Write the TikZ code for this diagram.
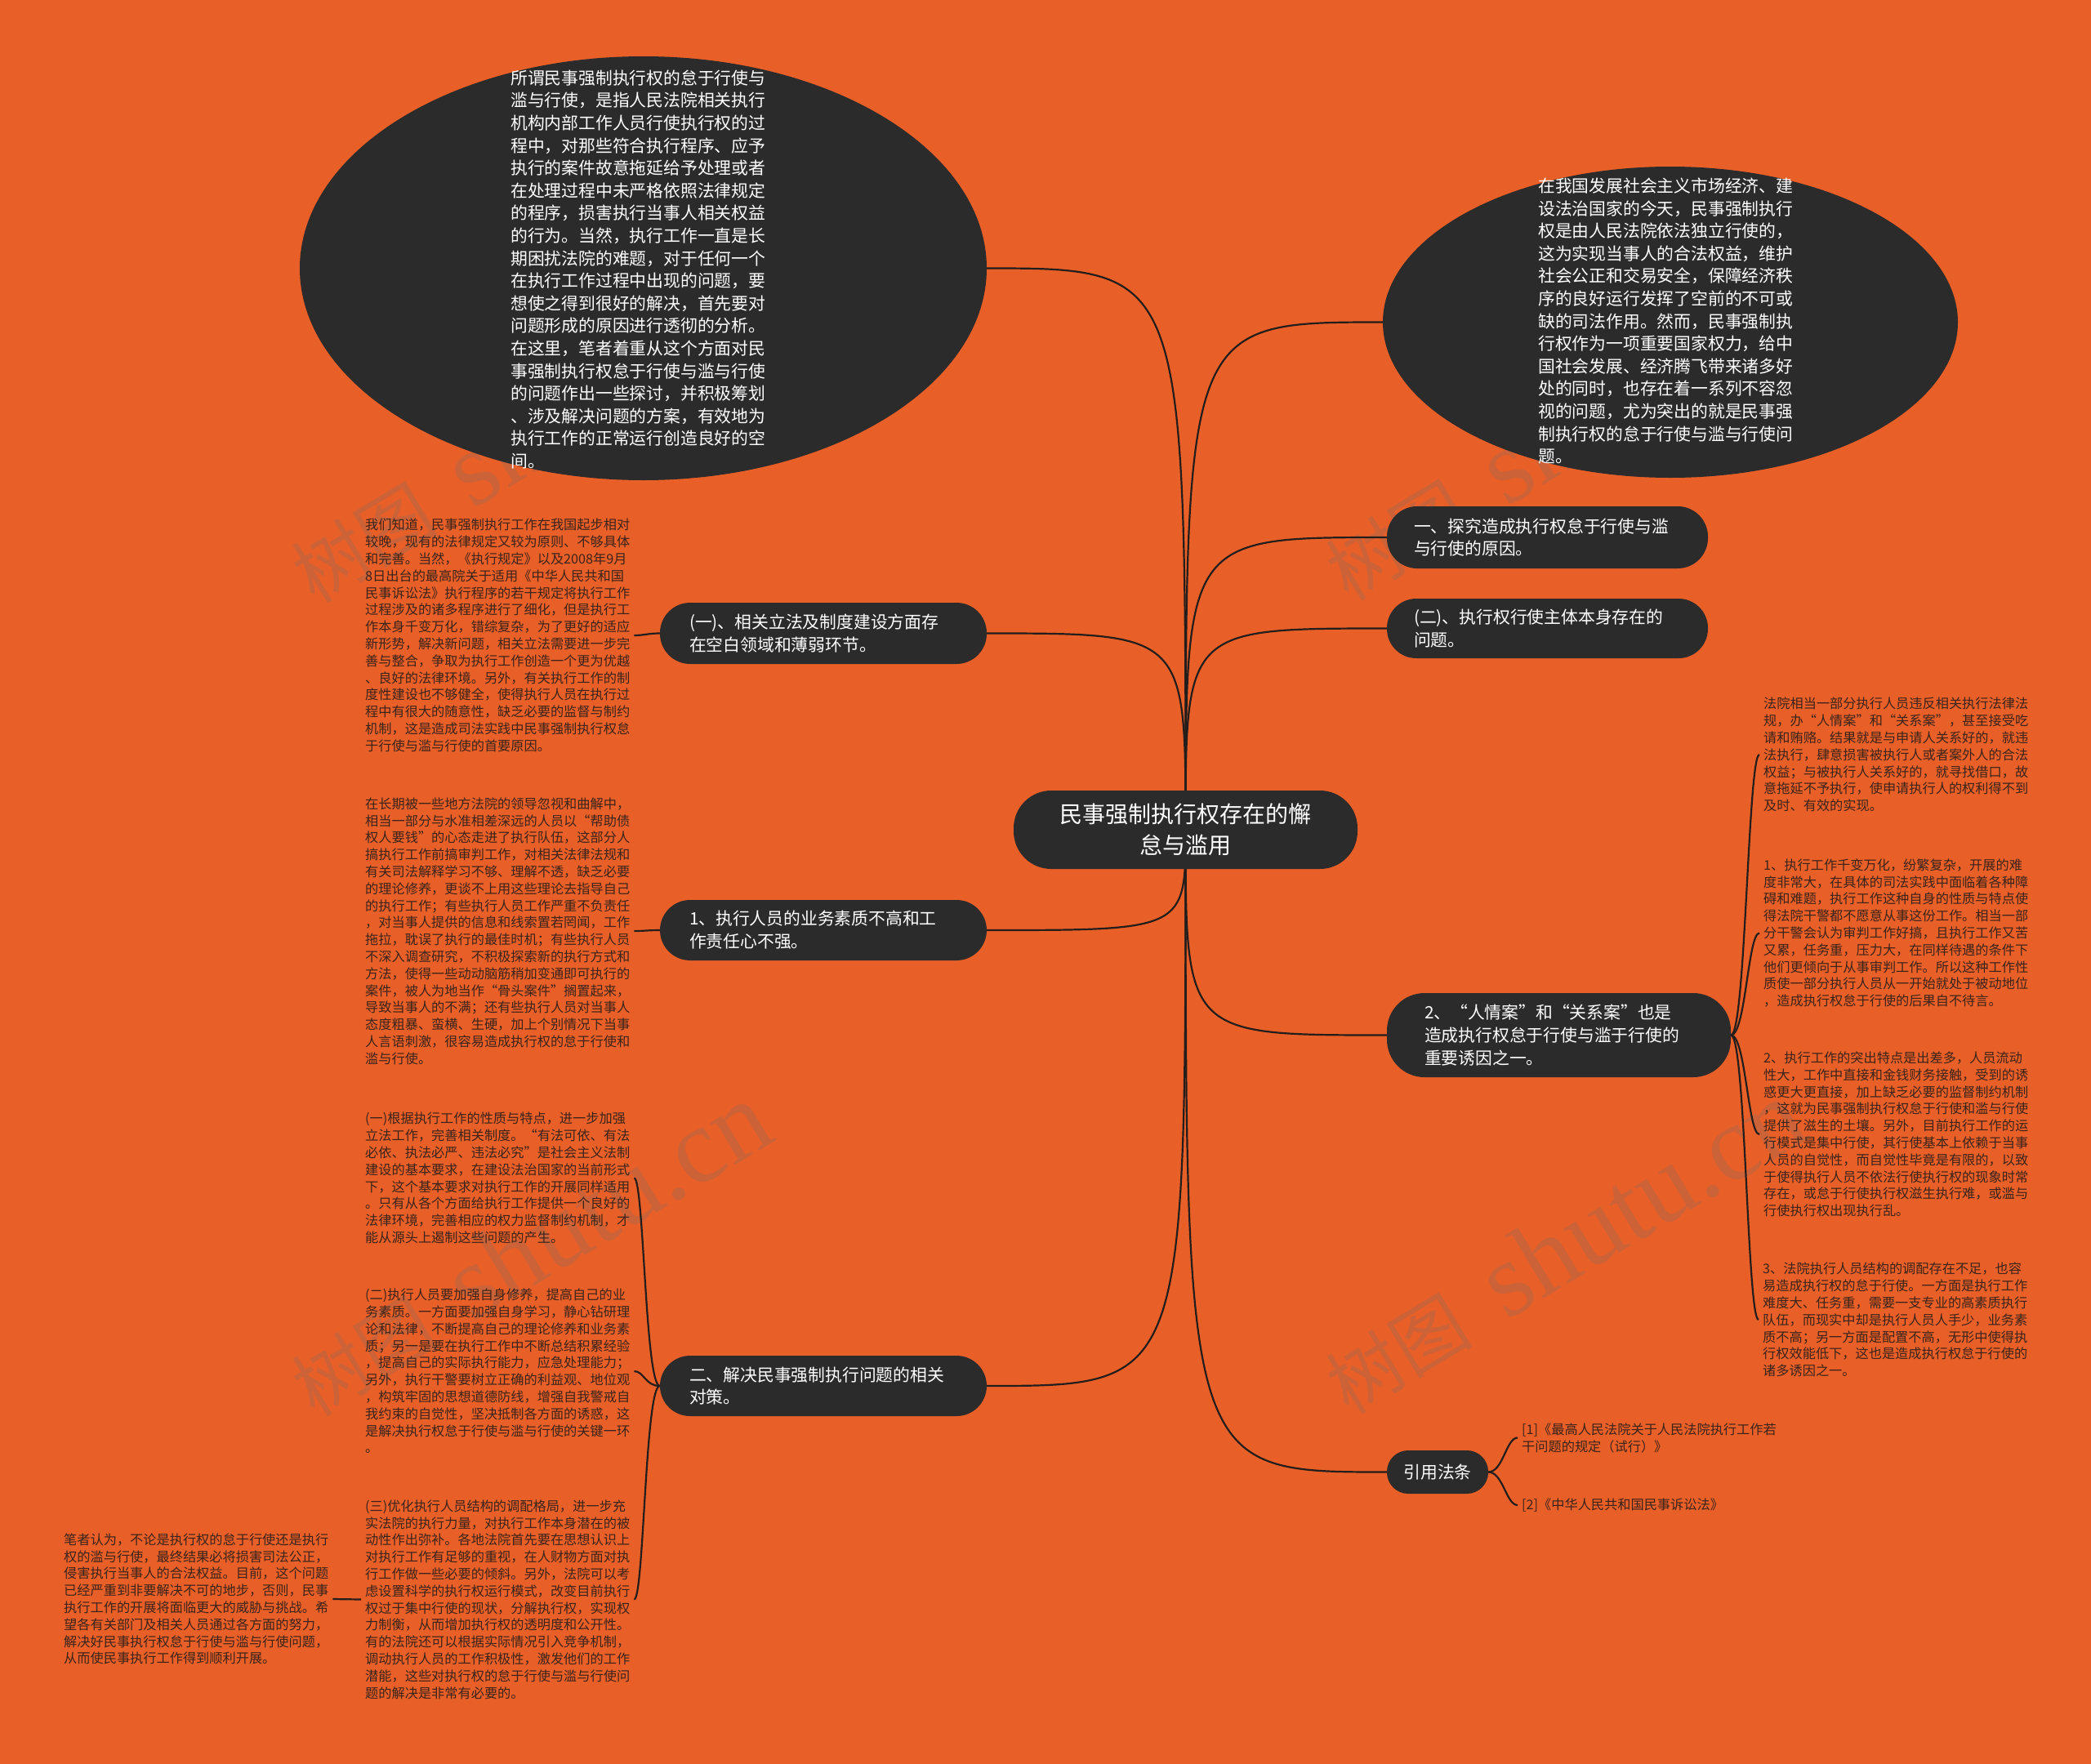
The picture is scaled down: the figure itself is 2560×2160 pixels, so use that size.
\documentclass[tikz,border=0pt]{standalone}
\usepackage{fontspec}
\setmainfont{Noto Sans CJK SC}
\newfontfamily\wmlatin{Liberation Serif}
\usetikzlibrary{shapes.geometric}
\definecolor{bgorange}{RGB}{233,95,40}
\definecolor{darkfill}{RGB}{43,43,43}
\definecolor{edgecol}{RGB}{35,30,28}
\definecolor{blocktext}{RGB}{58,36,26}
\definecolor{wmgray}{RGB}{110,110,110}
\pgfdeclarelayer{bg}
\pgfdeclarelayer{marks}
\pgfdeclarelayer{edges}
\pgfsetlayers{bg,marks,edges,main}
\tikzset{
  rootnode/.style={rectangle, rounded corners=46pt, fill=darkfill, text=white, minimum width=421pt, minimum height=96pt, align=center, font=\fontsize{28}{37.5}\selectfont, inner sep=0pt},
  pill/.style={rectangle, fill=darkfill, text=white, align=left, font=\fontsize{20.8}{27.8}\selectfont, inner ysep=0pt},
  blob/.style={ellipse, fill=darkfill, inner sep=0pt},
  blobtext/.style={anchor=west, text=white, align=left, inner xsep=0pt, inner ysep=0pt, font=\fontsize{20.8}{27.6}\selectfont},
  para/.style={anchor=west, text=blocktext, align=left, inner xsep=5pt, inner ysep=0pt, font=\fontsize{16.2}{20.8}\selectfont},
  link/.style={draw=edgecol, line width=2.2pt},
  wm/.style={text=wmgray, opacity=0.24, rotate=31, inner sep=0pt},
}
\newcommand{\wmark}{\fontsize{90}{90}\selectfont 树图\hspace{45pt}{\wmlatin\fontsize{130}{130}\selectfont shutu.cn}}
\begin{document}
\begin{tikzpicture}[x=1pt,y=-1pt]
\begin{pgfonlayer}{bg}
\fill[bgorange] (0,0) rectangle (2560,2160);
\end{pgfonlayer}
\useasboundingbox (0,0) rectangle (2560,2160);

% root
\node[rootnode] (root) at (1451.5,1016) {民事强制执行权存在的懈\\怠与滥用};

% ellipses
\node[blob, minimum width=841pt, minimum height=519pt] (e1) at (787.5,328.5) {};
\node[blobtext] (e1t) at (625,330) {所谓民事强制执行权的怠于行使与\\
滥与行使，是指人民法院相关执行\\
机构内部工作人员行使执行权的过\\
程中，对那些符合执行程序、应予\\
执行的案件故意拖延给予处理或者\\
在处理过程中未严格依照法律规定\\
的程序，损害执行当事人相关权益\\
的行为。当然，执行工作一直是长\\
期困扰法院的难题，对于任何一个\\
在执行工作过程中出现的问题，要\\
想使之得到很好的解决，首先要对\\
问题形成的原因进行透彻的分析。\\
在这里，笔者着重从这个方面对民\\
事强制执行权怠于行使与滥与行使\\
的问题作出一些探讨，并积极筹划\\
、涉及解决问题的方案，有效地为\\
执行工作的正常运行创造良好的空\\
间。};

\node[blob, minimum width=704pt, minimum height=381pt] (e2) at (2045,394.5) {};
\node[blobtext] (e2t) at (1883,393) {在我国发展社会主义市场经济、建\\
设法治国家的今天，民事强制执行\\
权是由人民法院依法独立行使的，\\
这为实现当事人的合法权益，维护\\
社会公正和交易安全，保障经济秩\\
序的良好运行发挥了空前的不可或\\
缺的司法作用。然而，民事强制执\\
行权作为一项重要国家权力，给中\\
国社会发展、经济腾飞带来诸多好\\
处的同时，也存在着一系列不容忽\\
视的问题，尤为突出的就是民事强\\
制执行权的怠于行使与滥与行使问\\
题。};

% right pills
\node[pill, minimum height=76pt, inner xsep=33pt, text width=327pt, rounded corners=37pt] (n1) at (1894.5,658) {一、探究造成执行权怠于行使与滥\\与行使的原因。};
\node[pill, minimum height=73pt, inner xsep=33pt, text width=327pt, rounded corners=36pt] (n2) at (1894.5,769.5) {(二)、执行权行使主体本身存在的\\问题。};
\node[pill, minimum height=103pt, inner xsep=46pt, text width=329pt, rounded corners=46pt] (n3) at (1908.5,1267.5) {2、“人情案”和“关系案”也是\\造成执行权怠于行使与滥于行使的\\重要诱因之一。};
\node[pill, align=center, minimum height=53pt, inner xsep=20pt, text width=84pt, rounded corners=26pt] (n4) at (1760,1802.5) {引用法条};

% left pills
\node[pill, minimum height=75pt, inner xsep=36pt, text width=328pt, rounded corners=37pt] (n5) at (1008,775.5) {(一)、相关立法及制度建设方面存\\在空白领域和薄弱环节。};
\node[pill, minimum height=74pt, inner xsep=36pt, text width=328pt, rounded corners=37pt] (n6) at (1008,1139) {1、执行人员的业务素质不高和工\\作责任心不强。};
\node[pill, minimum height=74pt, inner xsep=36pt, text width=328pt, rounded corners=37pt] (n7) at (1008,1697) {二、解决民事强制执行问题的相关\\对策。};

% left paragraphs
\node[para] (pC) at (442,778) {我们知道，民事强制执行工作在我国起步相对\\
较晚，现有的法律规定又较为原则、不够具体\\
和完善。当然，《执行规定》以及2008年9月\\
8日出台的最高院关于适用《中华人民共和国\\
民事诉讼法》执行程序的若干规定将执行工作\\
过程涉及的诸多程序进行了细化，但是执行工\\
作本身千变万化，错综复杂，为了更好的适应\\
新形势，解决新问题，相关立法需要进一步完\\
善与整合，争取为执行工作创造一个更为优越\\
、良好的法律环境。另外，有关执行工作的制\\
度性建设也不够健全，使得执行人员在执行过\\
程中有很大的随意性，缺乏必要的监督与制约\\
机制，这是造成司法实践中民事强制执行权怠\\
于行使与滥与行使的首要原因。};

\node[para] (pD) at (442,1140) {在长期被一些地方法院的领导忽视和曲解中，\\
相当一部分与水准相差深远的人员以“帮助债\\
权人要钱”的心态走进了执行队伍，这部分人\\
搞执行工作前搞审判工作，对相关法律法规和\\
有关司法解释学习不够、理解不透，缺乏必要\\
的理论修养，更谈不上用这些理论去指导自己\\
的执行工作；有些执行人员工作严重不负责任\\
，对当事人提供的信息和线索置若罔闻，工作\\
拖拉，耽误了执行的最佳时机；有些执行人员\\
不深入调查研究，不积极探索新的执行方式和\\
方法，使得一些动动脑筋稍加变通即可执行的\\
案件，被人为地当作“骨头案件”搁置起来，\\
导致当事人的不满；还有些执行人员对当事人\\
态度粗暴、蛮横、生硬，加上个别情况下当事\\
人言语刺激，很容易造成执行权的怠于行使和\\
滥与行使。};

\node[para] (pE) at (442,1442.5) {(一)根据执行工作的性质与特点，进一步加强\\
立法工作，完善相关制度。“有法可依、有法\\
必依、执法必严、违法必究”是社会主义法制\\
建设的基本要求，在建设法治国家的当前形式\\
下，这个基本要求对执行工作的开展同样适用\\
。只有从各个方面给执行工作提供一个良好的\\
法律环境，完善相应的权力监督制约机制，才\\
能从源头上遏制这些问题的产生。};

\node[para] (pF) at (442,1679) {(二)执行人员要加强自身修养，提高自己的业\\
务素质。一方面要加强自身学习，静心钻研理\\
论和法律，不断提高自己的理论修养和业务素\\
质；另一是要在执行工作中不断总结积累经验\\
，提高自己的实际执行能力，应急处理能力；\\
另外，执行干警要树立正确的利益观、地位观\\
，构筑牢固的思想道德防线，增强自我警戒自\\
我约束的自觉性，坚决抵制各方面的诱惑，这\\
是解决执行权怠于行使与滥与行使的关键一环\\
。};

\node[para] (pG) at (442,1958.5) {(三)优化执行人员结构的调配格局，进一步充\\
实法院的执行力量，对执行工作本身潜在的被\\
动性作出弥补。各地法院首先要在思想认识上\\
对执行工作有足够的重视，在人财物方面对执\\
行工作做一些必要的倾斜。另外，法院可以考\\
虑设置科学的执行权运行模式，改变目前执行\\
权过于集中行使的现状，分解执行权，实现权\\
力制衡，从而增加执行权的透明度和公开性。\\
有的法院还可以根据实际情况引入竞争机制，\\
调动执行人员的工作积极性，激发他们的工作\\
潜能，这些对执行权的怠于行使与滥与行使问\\
题的解决是非常有必要的。};

\node[para] (pH) at (73,1958) {笔者认为，不论是执行权的怠于行使还是执行\\
权的滥与行使，最终结果必将损害司法公正，\\
侵害执行当事人的合法权益。目前，这个问题\\
已经严重到非要解决不可的地步，否则，民事\\
执行工作的开展将面临更大的威胁与挑战。希\\
望各有关部门及相关人员通过各方面的努力，\\
解决好民事执行权怠于行使与滥与行使问题，\\
从而使民事执行工作得到顺利开展。};

% right paragraphs
\node[para] (pI) at (2154,924) {法院相当一部分执行人员违反相关执行法律法\\
规，办“人情案”和“关系案”，甚至接受吃\\
请和贿赂。结果就是与申请人关系好的，就违\\
法执行，肆意损害被执行人或者案外人的合法\\
权益；与被执行人关系好的，就寻找借口，故\\
意拖延不予执行，使申请执行人的权利得不到\\
及时、有效的实现。};

\node[para] (pJ) at (2154,1142.5) {1、执行工作千变万化，纷繁复杂，开展的难\\
度非常大，在具体的司法实践中面临着各种障\\
碍和难题，执行工作这种自身的性质与特点使\\
得法院干警都不愿意从事这份工作。相当一部\\
分干警会认为审判工作好搞，且执行工作又苦\\
又累，任务重，压力大，在同样待遇的条件下\\
他们更倾向于从事审判工作。所以这种工作性\\
质使一部分执行人员从一开始就处于被动地位\\
，造成执行权怠于行使的后果自不待言。};

\node[para] (pK) at (2154,1389) {2、执行工作的突出特点是出差多，人员流动\\
性大，工作中直接和金钱财务接触，受到的诱\\
惑更大更直接，加上缺乏必要的监督制约机制\\
，这就为民事强制执行权怠于行使和滥与行使\\
提供了滋生的土壤。另外，目前执行工作的运\\
行模式是集中行使，其行使基本上依赖于当事\\
人员的自觉性，而自觉性毕竟是有限的，以致\\
于使得执行人员不依法行使执行权的现象时常\\
存在，或怠于行使执行权滋生执行难，或滥与\\
行使执行权出现执行乱。};

\node[para] (pL) at (2153,1616) {3、法院执行人员结构的调配存在不足，也容\\
易造成执行权的怠于行使。一方面是执行工作\\
难度大、任务重，需要一支专业的高素质执行\\
队伍，而现实中却是执行人员人手少，业务素\\
质不高；另一方面是配置不高，无形中使得执\\
行权效能低下，这也是造成执行权怠于行使的\\
诸多诱因之一。};

\node[para] (r1) at (1858,1760.5) {[1]《最高人民法院关于人民法院执行工作若\\干问题的规定（试行）》};
\node[para] (r2) at (1858,1843) {[2]《中华人民共和国民事诉讼法》};

% connectors
\begin{pgfonlayer}{edges}
\draw[link] (root.center) .. controls (root.center |- e1.east) and (root.center |- e1.east) .. (e1.east);
\draw[link] (root.center) .. controls (root.center |- e2.west) and (root.center |- e2.west) .. (e2.west);
\draw[link] (root.center) .. controls (root.center |- n1.west) and (root.center |- n1.west) .. (n1.west);
\draw[link] (root.center) .. controls (root.center |- n2.west) and (root.center |- n2.west) .. (n2.west);
\draw[link] (root.center) .. controls (root.center |- n3.west) and (root.center |- n3.west) .. (n3.west);
\draw[link] (root.center) .. controls (root.center |- n4.west) and (root.center |- n4.west) .. (n4.west);
\draw[link] (root.center) .. controls (root.center |- n5.east) and (root.center |- n5.east) .. (n5.east);
\draw[link] (root.center) .. controls (root.center |- n6.east) and (root.center |- n6.east) .. (n6.east);
\draw[link] (root.center) .. controls (root.center |- n7.east) and (root.center |- n7.east) .. (n7.east);

\draw[link] (n5.west) .. controls +(-14,0) and +(12,0) .. (pC.east);
\draw[link] (n6.west) .. controls +(-14,0) and +(12,0) .. (pD.east);
\draw[link] (n7.west) .. controls +(-18,0) and +(12,0) .. (pE.east);
\draw[link] (n7.west) .. controls +(-18,0) and +(12,0) .. (pF.east);
\draw[link] (n7.west) .. controls +(-18,0) and +(12,0) .. (pG.east);
\draw[link] (pG.west) -- (pH.east);

\draw[link] (n3.east) .. controls +(18,0) and +(-14,0) .. (pI.west);
\draw[link] (n3.east) .. controls +(18,0) and +(-14,0) .. (pJ.west);
\draw[link] (n3.east) .. controls +(18,0) and +(-14,0) .. (pK.west);
\draw[link] (n3.east) .. controls +(18,0) and +(-14,0) .. (pL.west);

\draw[link] (n4.east) .. controls +(18,0) and +(-14,0) .. (r1.west);
\draw[link] (n4.east) .. controls +(18,0) and +(-14,0) .. (r2.west);
\end{pgfonlayer}

% watermarks (behind the dark shapes)
\begin{pgfonlayer}{marks}
\node[wm] (w1) at (648,534) {\wmark};
\node[wm] (w2) at (648,1530) {\wmark};
\node[wm] (w3) at (1914,531) {\wmark};
\node[wm] (w4) at (1914,1527) {\wmark};
\end{pgfonlayer}
\end{tikzpicture}
\end{document}
